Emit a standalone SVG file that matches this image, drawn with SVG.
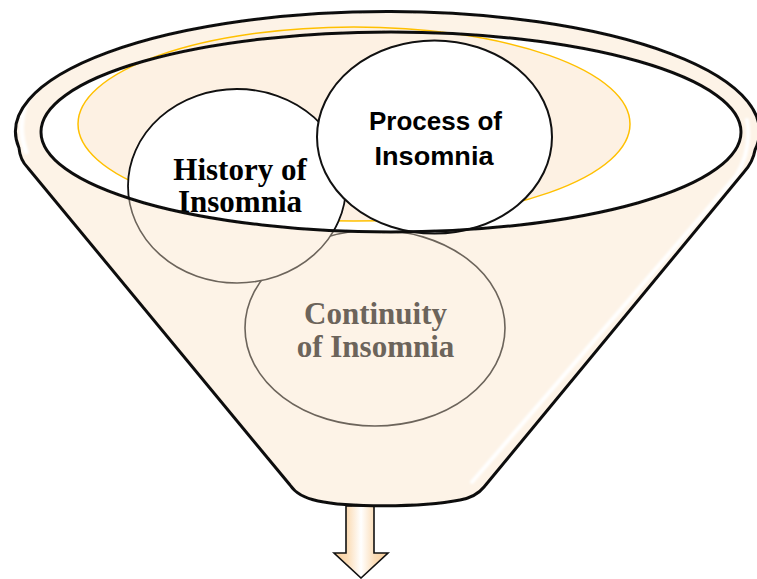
<svg xmlns="http://www.w3.org/2000/svg" width="757" height="579" viewBox="0 0 757 579">
  <style>
    .cream { fill: #FDF3E7; }
    .serif { font-family: "Liberation Serif", "Times New Roman", serif; font-weight: bold; font-size: 31px; }
    .sans { font-family: "Liberation Sans", Arial, sans-serif; font-weight: bold; font-size: 26px; }
    .rimline { fill: none; stroke: #111; stroke-width: 3; }
    .gloss { fill: none; stroke: #ffffff; stroke-linecap: round; filter: url(#soft); }
    .grayline { stroke: #6C645B; stroke-width: 1.6; }
  </style>
  <defs>
    <filter id="soft" x="-20%" y="-20%" width="140%" height="140%">
      <feGaussianBlur stdDeviation="1.2"/>
    </filter>
    <filter id="edge" x="-5%" y="-5%" width="110%" height="110%">
      <feGaussianBlur stdDeviation="0.6"/>
    </filter>
    <linearGradient id="arrowFill" x1="0" y1="0" x2="1" y2="0">
      <stop offset="0" stop-color="#F8CC98"/>
      <stop offset="0.25" stop-color="#FBDDB8"/>
      <stop offset="0.5" stop-color="#FFFFFF"/>
      <stop offset="0.75" stop-color="#FBDDB8"/>
      <stop offset="1" stop-color="#F8CC98"/>
    </linearGradient>
    <clipPath id="insideRim">
      <ellipse cx="391" cy="132" rx="350" ry="100"/>
    </clipPath>
    <clipPath id="outsideRim">
      <path clip-rule="evenodd" d="M0,0H757V579H0Z M41,132 a350,100 0 1,0 700,0 a350,100 0 1,0 -700,0Z"/>
    </clipPath>
  </defs>

  <g id="connectors">
    <path id="arrow-down" d="M346,506 L374,506 L374,553 L388,553 L361,578 L334,553 L346,553 Z" fill="url(#arrowFill)" stroke="#111" stroke-width="1.6" stroke-linejoin="miter"/>
  </g>

  <g id="funnel">
    <path class="cream" d="M19,148 Q20,160 28,168 L290,485 Q298,497 318,501 C345,507 420,508 460,500 Q476,497 484,487 L744,172 Q753,162 755,150 A372,120 0 1,0 19,148 Z"/>
    <path class="gloss" stroke-width="5" d="M34,88 Q14,118 26,152"/>
    <path class="gloss" stroke-width="4" d="M747,120 Q752,150 736,176 L472,482"/>
  </g>

  <g id="node-continuity">
    <ellipse cx="375" cy="328" rx="130" ry="98" class="cream grayline"/>
    <text class="serif" x="375.5" y="324" text-anchor="middle" fill="#6C645B">Continuity</text>
    <text class="serif" x="375.5" y="357" text-anchor="middle" fill="#6C645B">of Insomnia</text>
  </g>

  <g id="funnel-mouth">
    <ellipse cx="391" cy="132" rx="350" ry="100" fill="#ffffff"/>
    <ellipse id="inner-ring" cx="354" cy="124" rx="276" ry="97" fill="#FDF1E3" stroke="#FFC000" stroke-width="1.5"/>
  </g>

  <g id="node-history">
    <ellipse cx="237" cy="186" rx="109" ry="97" fill="#ffffff" stroke="#111" stroke-width="1.8" clip-path="url(#insideRim)"/>
    <ellipse cx="237" cy="186" rx="109" ry="97" class="cream grayline" clip-path="url(#outsideRim)"/>
    <text class="serif" x="240" y="180" text-anchor="middle" fill="#000">History of</text>
    <text class="serif" x="240" y="212" text-anchor="middle" fill="#000">Insomnia</text>
  </g>

  <g id="node-process">
    <ellipse cx="434.5" cy="137" rx="117.5" ry="96.5" fill="#ffffff" stroke="#111" stroke-width="2"/>
    <text class="sans" x="435.5" y="130" text-anchor="middle" textLength="133" lengthAdjust="spacingAndGlyphs" fill="#000">Process of</text>
    <text class="sans" x="434" y="165" text-anchor="middle" textLength="119" lengthAdjust="spacingAndGlyphs" fill="#000">Insomnia</text>
  </g>

  <g id="rim-strokes" filter="url(#edge)">
    <ellipse cx="391" cy="132" rx="350" ry="100" class="rimline"/>
    <path class="rimline" d="M19,148 Q20,160 28,168 L290,485 Q298,497 318,501 C345,507 420,508 460,500 Q476,497 484,487 L744,172 Q753,162 755,150 A372,120 0 1,0 19,148 Z"/>
  </g>
</svg>
